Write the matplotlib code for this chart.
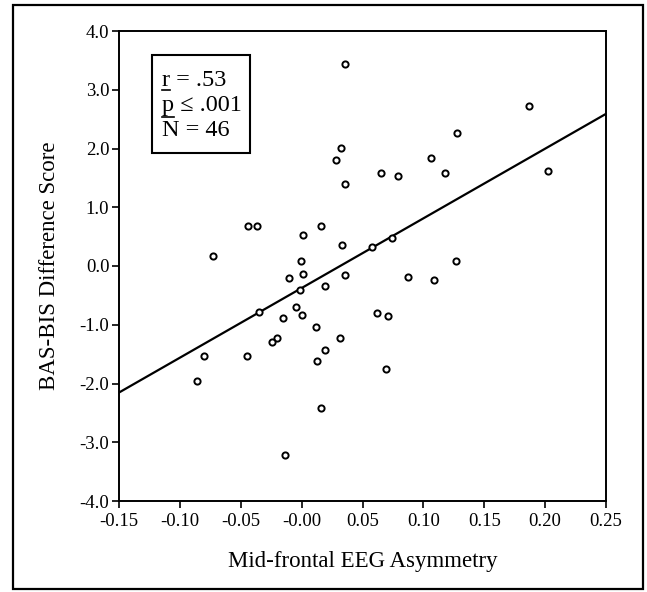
import numpy as np
import matplotlib
matplotlib.use('Agg')
import matplotlib.pyplot as plt
from matplotlib.patches import Rectangle
from matplotlib.lines import Line2D

plt.rcParams['font.family'] = ['Liberation Serif', 'DejaVu Serif']

# data
asymmetry = [0.036, 0.187, 0.128, 0.032, 0.028, 0.106, 0.065, 0.079, 0.118, 0.2026,
             0.0355, -0.0442, -0.0368, 0.016, 0.001, 0.033, 0.058, 0.074, -0.073, -0.0008,
             0.127, 0.0015, 0.036, 0.087, 0.109, -0.0107, 0.019, -0.0015, -0.0354, -0.005,
             0.0005, -0.015, 0.0615, 0.071, 0.012, 0.0317, -0.020, -0.0246, 0.0188, -0.0798,
             -0.045, 0.0124, 0.0697, -0.0856, 0.0158, -0.0134]
bas_bis = [3.43, 2.72, 2.26, 2.01, 1.80, 1.83, 1.59, 1.54, 1.59, 1.61,
           1.40, 0.68, 0.68, 0.68, 0.52, 0.365, 0.327, 0.48, 0.173, 0.083,
           0.083, -0.128, -0.147, -0.18, -0.23, -0.205, -0.346, -0.417, -0.776, -0.70,
           -0.83, -0.885, -0.795, -0.853, -1.04, -1.23, -1.22, -1.30, -1.436, -1.526,
           -1.53, -1.62, -1.756, -1.95, -2.41, -3.21]

x_ticks = [-0.15, -0.10, -0.05, 0.0, 0.05, 0.10, 0.15, 0.20, 0.25]
x_tick_labels = ['-0.15', '-0.10', '-0.05', '-0.00', '0.05', '0.10', '0.15', '0.20', '0.25']
y_ticks = [4.0, 3.0, 2.0, 1.0, 0.0, -1.0, -2.0, -3.0, -4.0]
y_tick_labels = ['4.0', '3.0', '2.0', '1.0', '0.0', '-1.0', '-2.0', '-3.0', '-4.0']
stats_lines = ['r = .53', 'p ≤ .001', 'N = 46']
underline_first = [True, True, False]

W, H = 647, 592
fig = plt.figure(figsize=(W / 100, H / 100), dpi=100)
ax = fig.add_axes([119 / W, 1 - 501 / H, (606 - 119) / W, (501 - 31) / H])

ax.scatter(asymmetry, bas_bis, s=20, facecolors='white', edgecolors='black',
           linewidths=1.4, zorder=3)

slope, intercept = np.polyfit(asymmetry, bas_bis, 1)
xl = np.array([-0.15, 0.25])
ax.plot(xl, slope * xl + intercept, color='black', lw=1.6, zorder=2)

ax.set_xlim(-0.15, 0.25)
ax.set_ylim(-4.0, 4.0)
ax.set_xticks(x_ticks)
ax.set_xticklabels(x_tick_labels)
ax.set_yticks(y_ticks)
ax.set_yticklabels(y_tick_labels)
ax.tick_params(direction='out', length=5, width=1.2, labelsize=13.5, pad=2,
               top=False, right=False)
ax.tick_params(axis='x', pad=4)
for sp in ax.spines.values():
    sp.set_linewidth(1.4)

ax.set_xlabel('Mid-frontal EEG Asymmetry', fontsize=16.5, labelpad=15)
ax.set_ylabel('BAS-BIS Difference Score', fontsize=16.5, labelpad=14)

# stats box
fig.patches.append(Rectangle((152 / W, 1 - 153 / H), 98 / W, 98 / H,
                             transform=fig.transFigure, fill=False,
                             edgecolor='black', lw=1.5))
renderer = fig.canvas.get_renderer()
for i, line in enumerate(stats_lines):
    x0, yb = 162 / W, 1 - (86 + 25 * i) / H
    fig.text(x0, yb, line, fontsize=17.5, va='baseline', ha='left')
    if underline_first[i]:
        t = fig.text(x0, yb, line[0], fontsize=17.5, va='baseline', ha='left', alpha=0)
        bb = t.get_window_extent(renderer)
        uy = yb - 4 / H if line[0] != 'p' else yb - 5.5 / H
        fig.add_artist(Line2D([bb.x0 / W, bb.x1 / W], [uy, uy],
                              transform=fig.transFigure, color='black', lw=1.2))

# outer frame
fig.patches.append(Rectangle((13 / W, 1 - 589 / H), 630 / W, 584 / H,
                             transform=fig.transFigure, fill=False,
                             edgecolor='black', lw=1.6))

fig.savefig('out.png', dpi=100)
